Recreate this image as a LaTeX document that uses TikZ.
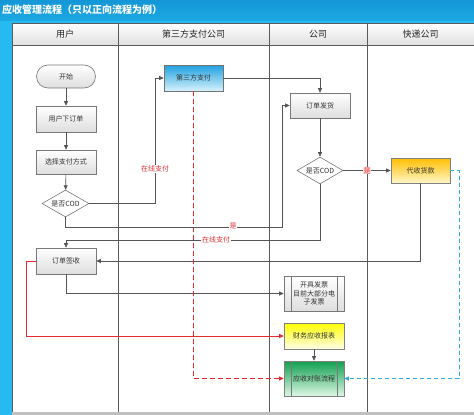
\documentclass[tikz,border=0pt]{standalone}
\usepackage{fontspec}
\setmainfont{Noto Sans CJK SC}
\usetikzlibrary{arrows.meta,shapes.geometric}
\definecolor{barblue}{RGB}{28,168,226}
\definecolor{bartop}{RGB}{20,150,215}
\definecolor{stripblue}{RGB}{38,186,240}
\definecolor{linegray}{RGB}{85,85,85}
\definecolor{gridgray}{RGB}{90,90,90}
\definecolor{boxborder}{RGB}{120,120,120}
\definecolor{redl}{RGB}{225,45,50}
\definecolor{bluel}{RGB}{40,175,225}
\definecolor{bluetop}{RGB}{30,160,225}
\definecolor{bluebot}{RGB}{215,242,252}
\definecolor{orangetop}{RGB}{255,190,0}
\definecolor{orangebot}{RGB}{255,246,200}
\definecolor{yellowtop}{RGB}{255,255,0}
\definecolor{yellowbot}{RGB}{255,255,232}
\definecolor{greentop}{RGB}{16,160,80}
\definecolor{greenbot}{RGB}{222,246,228}
\tikzset{
  x=1pt, y=-1pt,
  every node/.style={font=\fontsize{7}{8.5}\selectfont, text=black!80, align=center},
  box/.style={draw=boxborder, line width=0.6pt, top color=white, bottom color=black!13, minimum width=60pt, minimum height=26pt, inner sep=1pt},
  startbox/.style={box, rounded corners=11.5pt, minimum width=59pt, minimum height=23pt},
  decision/.style={draw=boxborder, line width=0.6pt, fill=white, shape=diamond, aspect=1.74, inner sep=0pt, minimum width=47pt, minimum height=27pt},
  bluebox/.style={box, draw=black!55, top color=bluetop, bottom color=bluebot},
  orangebox/.style={box, draw=black!50, top color=orangetop, bottom color=orangebot},
  yellowbox/.style={box, draw=black!50, top color=yellowtop, bottom color=yellowbot},
  greenbox/.style={box, draw=black!50, top color=greentop, bottom color=greenbot},
  predef/.style={path picture={
    \draw[boxborder, line width=0.5pt] ([xshift=7pt]path picture bounding box.north west) -- ([xshift=7pt]path picture bounding box.south west);
    \draw[boxborder, line width=0.5pt] ([xshift=-7pt]path picture bounding box.north east) -- ([xshift=-7pt]path picture bounding box.south east);}},
  flow/.style={draw=linegray, line width=0.6pt, -{Triangle[length=4.5pt,width=4pt]}},
  redflow/.style={flow, draw=redl, -{Triangle[length=4.5pt,width=4pt,fill=redl]}},
  lbl/.style={text=redl, fill=white, inner sep=0.8pt},
  hdr/.style={font=\fontsize{9}{10}\selectfont, text=black!85},
}
\begin{document}
\begin{tikzpicture}
\useasboundingbox (0,0) rectangle (474,415);
% background
\fill[stripblue] (0,0) rectangle (474,415);
\shade[top color=bartop, bottom color=barblue] (0,0) rectangle (474,20);
\fill[white] (12,23) rectangle (474,412);
\fill[black!25] (12,412) rectangle (474,415);
\shade[top color=white, bottom color=black!12] (12,23) rectangle (474,45);
\node[anchor=west, font=\fontsize{10}{11}\selectfont\bfseries, text=white, inner sep=0pt] (title) at (2,10) {应收管理流程（只以正向流程为例）};
% grid
\draw[gridgray, line width=0.6pt] (12,23) -- (474,23) (12,45) -- (474,45);
\foreach \xx in {12,118,269,367} {\draw[gridgray, line width=0.6pt] (\xx,23) -- (\xx,412);}
\node[hdr] (h1) at (65,34) {用户};
\node[hdr] (h2) at (193.5,34) {第三方支付公司};
\node[hdr] (h3) at (318,34) {公司};
\node[hdr] (h4) at (420.5,34) {快递公司};
% nodes
\node[startbox] (start) at (66,76.5) {开始};
\node[box] (order) at (66,119) {用户下订单};
\node[box, minimum height=24pt] (choose) at (66,162) {选择支付方式};
\node[decision] (cod1) at (65.5,203.5) {是否COD};
\node[bluebox, minimum width=59pt] (third) at (193.5,78) {第三方支付};
\node[box, minimum height=25pt] (ship) at (320,105.5) {订单发货};
\node[decision, minimum width=46pt] (cod2) at (320,170.5) {是否COD};
\node[orangebox, minimum width=59pt, minimum height=25pt] (collect) at (420.5,170.5) {代收货款};
\node[box] (sign) at (66,261) {订单签收};
\node[box, predef, minimum height=35pt, inner sep=0pt] (invoice) at (314,293.5) {开具发票\\目前大部分电\\子发票};
\node[yellowbox] (report) at (314,336) {财务应收报表};
\node[greenbox, predef, minimum height=35pt] (recon) at (314,378.5) {应收对账流程};
% connectors
\draw[flow] (start) -- (order);
\draw[flow] (order) -- (choose);
\draw[flow] (choose) -- (cod1);
\draw[flow] (cod1.east) -- ++(66,0) |- (third.west);
\node[lbl] (l1) at (155,169) {在线支付};
\draw[flow] (third.east) -| (ship.north);
\draw[flow] (cod1.south) -- ++(0,9.5) -- ++(216.5,0) |- (ship.west);
\node[lbl] (l2) at (233,225.5) {是};
\draw[flow] (ship) -- (cod2);
\draw[flow] (cod2.south) -- ++(0,56) -| (sign.north);
\draw[flow] (cod2.east) -- (collect.west);
\node[lbl, fill=red!12] (l4) at (367,170.5) {是};
\draw[flow] (collect.south) |- (sign.east);
\draw[flow] (sign.south) |- (invoice.west);
\draw[redflow] (sign.west) -- ++(-9,0) |- (report.west);
\draw[flow] (report) -- (recon);
\draw[redflow, dash pattern=on 5pt off 3pt, line width=0.9pt] (third.south) |- (recon.west);
\draw[flow, draw=bluel, dash pattern=on 4pt off 3pt, line width=0.8pt, -{Triangle[length=4.5pt,width=4pt,fill=bluel]}] (collect.east) -- ++(9,0) |- (recon.east);
\node[lbl] (l3) at (216,240) {在线支付};
\end{tikzpicture}
\end{document}
